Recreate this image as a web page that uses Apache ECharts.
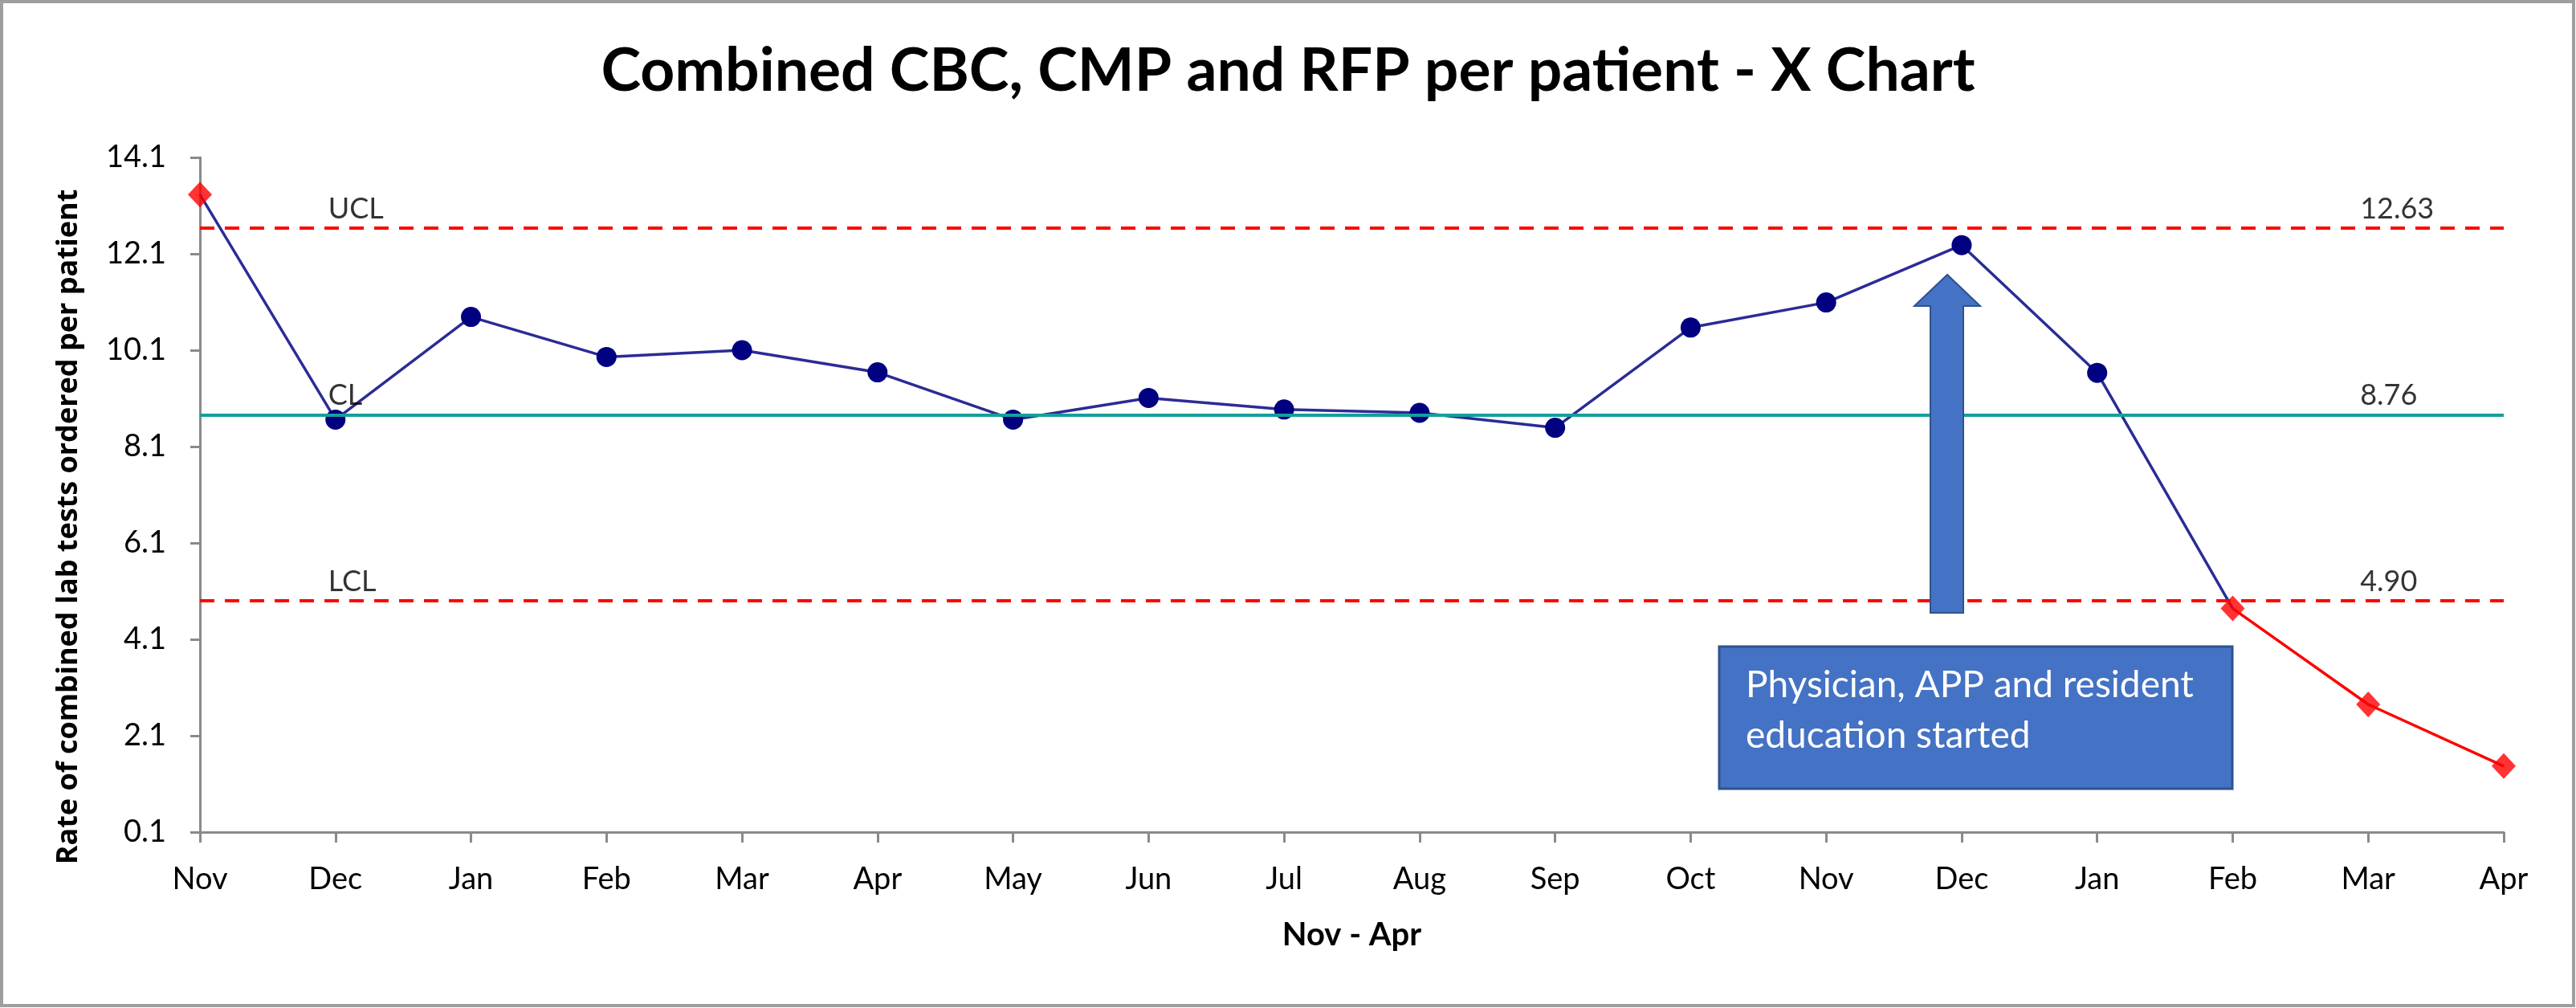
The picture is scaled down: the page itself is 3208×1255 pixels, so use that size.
<!DOCTYPE html>
<html>
<head>
<meta charset="utf-8">
<script src="https://cdn.jsdelivr.net/npm/echarts@6/dist/echarts.min.js"></script>
<style>
html,body{margin:0;padding:0;background:#fff;}
#chart{width:3208px;height:1255px;}
</style>
</head>
<body>
<div id="chart"></div>
<script>
// ---- data ----
const categories = ['Nov','Dec','Jan','Feb','Mar','Apr','May','Jun','Jul','Aug','Sep','Oct','Nov','Dec','Jan','Feb','Mar','Apr'];
const rates = [13.33, 8.66, 10.79, 9.96, 10.10, 9.64, 8.66, 9.11, 8.87, 8.80, 8.49, 10.57, 11.09, 12.28, 9.63, 4.74, 2.75, 1.47];
const ucl = 12.63;
const cl = 8.76;
const lcl = 4.90;
const interventionIndex = 15;   // red segment starts here (Feb)
const yMin = 0.1, yMax = 14.1, yStep = 2;
const limitNames = ['UCL', 'CL', 'LCL'];
const limitValues = [ucl, cl, lcl];
const noteText = 'Physician, APP and resident\neducation started';

// ---- derived ----
const isOut = v => v > ucl || v < lcl;
const blueData = rates.map((v, i) => i <= interventionIndex
  ? { value: v, symbol: isOut(v) ? 'none' : 'circle' } : '-');
const redData = rates.map((v, i) => i >= interventionIndex ? v : '-');
const outData = rates.map((v, i) => [i, v]).filter(d => isOut(d[1]));
const leftLabels = limitNames.map((n, k) => [1, limitValues[k], n]);
const rightLabels = limitValues.map(v => [categories.length - 2, v, v.toFixed(2)]);

const chart = echarts.init(document.getElementById('chart'));
const option = {
  backgroundColor: '#ffffff',
  animation: false,
  title: {
    text: 'Combined CBC, CMP and RFP per patient - X Chart',
    left: 'center',
    top: 46,
    textStyle: { fontFamily: 'Lato', fontWeight: 'bold', fontSize: 75, color: '#000' }
  },
  grid: { left: 249, right: 90, top: 196, bottom: 219 },
  xAxis: {
    type: 'category',
    data: categories,
    boundaryGap: false,
    name: 'Nov - Apr',
    nameLocation: 'middle',
    nameGap: 108,
    nameTextStyle: { fontFamily: 'Lato', fontWeight: 'bold', fontSize: 40, color: '#000' },
    axisLine: { lineStyle: { color: '#8a8a8a', width: 3 } },
    axisTick: { show: true, length: 13, lineStyle: { color: '#8a8a8a', width: 3 } },
    axisLabel: { margin: 40, fontFamily: 'Lato', fontSize: 38, color: '#000', interval: 0 },
    splitLine: { show: false }
  },
  yAxis: {
    type: 'value',
    min: yMin,
    max: yMax,
    interval: yStep,
    name: 'Rate of combined lab tests ordered per patient',
    nameLocation: 'middle',
    nameGap: 145,
    nameTextStyle: { fontFamily: 'Open Sans', fontWeight: 'bold', fontSize: 36, color: '#000',
      padding: [0, 80, 0, 0] },
    axisLine: { show: true, lineStyle: { color: '#8a8a8a', width: 3 } },
    axisTick: { show: true, length: 12, lineStyle: { color: '#8a8a8a', width: 3 } },
    axisLabel: { margin: 42, fontFamily: 'Lato', fontSize: 38, color: '#000',
      formatter: v => (Math.round(v * 10) / 10).toFixed(1) },
    splitLine: { show: false }
  },
  series: [
    {
      name: 'Rate',
      type: 'line',
      data: blueData,
      z: 2,
      showAllSymbol: true,
      symbol: 'circle',
      symbolSize: 25,
      itemStyle: { color: '#000080' },
      lineStyle: { color: '#2B2B96', width: 3.5 }
    },
    {
      name: 'Post',
      type: 'line',
      data: redData,
      z: 2,
      symbol: 'none',
      lineStyle: { color: '#FF0000', width: 3.5 }
    },
    {
      name: 'Limits',
      type: 'line',
      data: [],
      z: 3,
      markLine: {
        silent: true,
        symbol: ['none', 'none'],
        label: { show: false },
        data: [
          { yAxis: ucl, lineStyle: { color: '#FF0000', width: 4, type: [18, 13] } },
          { yAxis: cl, lineStyle: { color: '#15A09C', width: 4, type: 'solid' } },
          { yAxis: lcl, lineStyle: { color: '#FF0000', width: 4, type: [18, 13] } }
        ]
      }
    },
    {
      name: 'Out of control',
      type: 'scatter',
      data: outData,
      z: 5,
      symbol: 'diamond',
      symbolSize: [30, 32],
      itemStyle: { color: '#FF0000' }
    },
    {
      name: 'LimitLabelsLeft',
      type: 'scatter',
      data: leftLabels,
      symbolSize: 0,
      silent: true,
      z: 6,
      label: {
        show: true, position: 'top', align: 'left', distance: 6, offset: [-9, 0],
        formatter: p => p.value[2],
        fontFamily: 'Lato', fontSize: 36, color: '#000'
      }
    },
    {
      name: 'LimitLabelsRight',
      type: 'scatter',
      data: rightLabels,
      symbolSize: 0,
      silent: true,
      z: 6,
      label: {
        show: true, position: 'top', align: 'left', distance: 6, offset: [-10, 0],
        formatter: p => p.value[2],
        fontFamily: 'Lato', fontSize: 36, color: '#000'
      }
    }
  ],
  graphic: [
    {
      type: 'rect',
      shape: { x: 2, y: 2, width: 3203, height: 1250 },
      style: { fill: 'none', stroke: '#9e9e9e', lineWidth: 4 },
      silent: true, z: 100
    },
    {
      type: 'polygon',
      shape: { points: [[2425, 342], [2384, 381], [2404, 381], [2404, 763], [2445, 763], [2445, 381], [2466, 381]] },
      style: { fill: '#4472C4', stroke: '#2F528F', lineWidth: 2 },
      z: 50
    },
    {
      type: 'rect',
      shape: { x: 2141, y: 805, width: 639, height: 177 },
      style: { fill: '#4472C4', stroke: '#2F528F', lineWidth: 3 },
      z: 50
    },
    {
      type: 'text',
      x: 2174, y: 822,
      style: { text: noteText, fill: '#ffffff', font: '46px Lato', lineHeight: 63, textVerticalAlign: 'top' },
      z: 51
    }
  ]
};
chart.setOption(option);
</script>
</body>
</html>
